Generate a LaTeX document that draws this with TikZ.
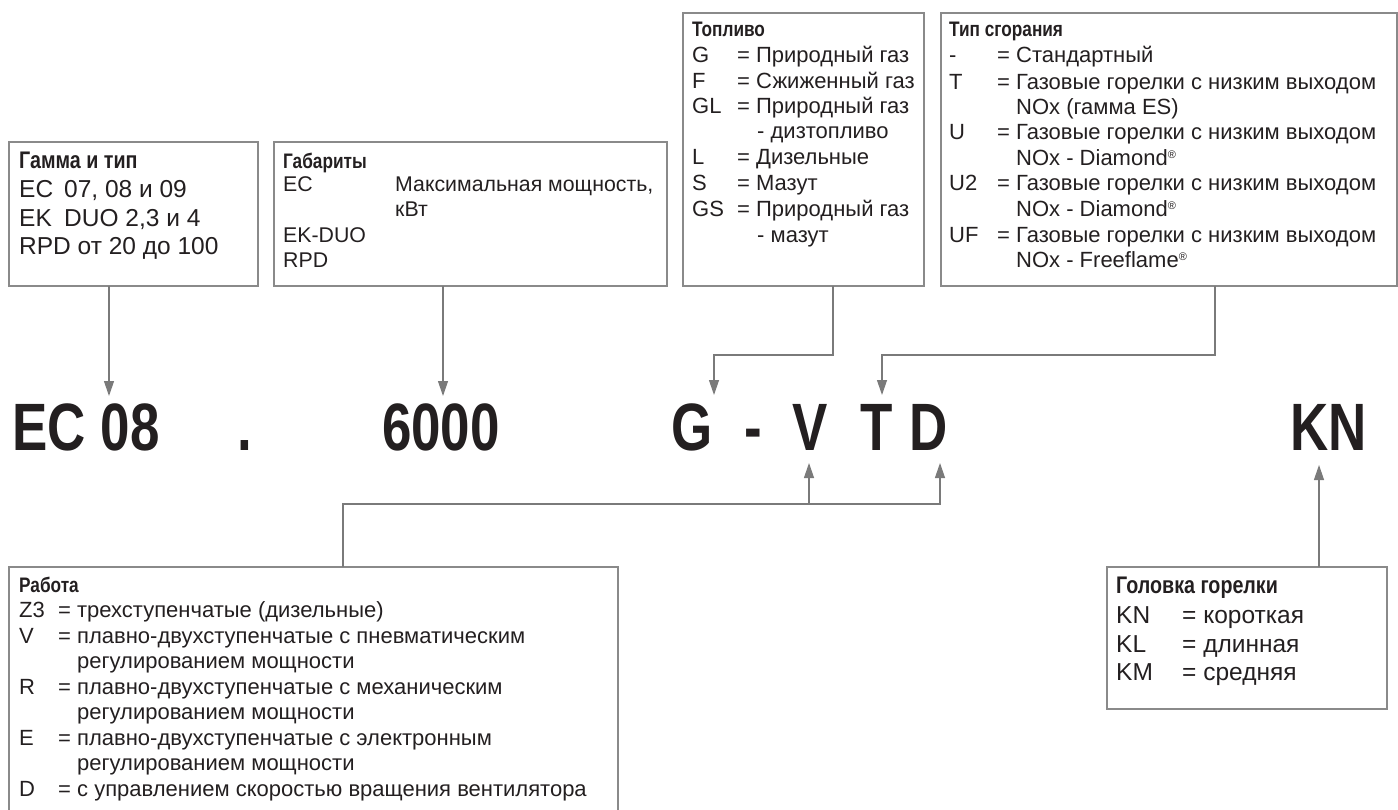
\documentclass[tikz,border=0pt]{standalone}
\usepackage{fontspec}
\setmainfont{Liberation Sans}
\newfontfamily\headfont[FakeStretch=0.82]{Liberation Sans}
\newfontfamily\bigfont[FakeStretch=0.79]{Liberation Sans}
\usetikzlibrary{arrows.meta}
\definecolor{ink}{HTML}{231F20}
\definecolor{boxgray}{HTML}{8A8A8A}
\definecolor{linegray}{HTML}{7A7A7A}
\newcounter{tn}
\newcommand\boxline[3]{\stepcounter{tn}\node[txt] (t\arabic{tn}) at (#1,-#2) {#3};}
\newcommand\boxhead[3]{\stepcounter{tn}\node[hd] (t\arabic{tn}) at (#1,-#2) {#3};}
\newcommand\bigline[3]{\stepcounter{tn}\node[txtL] (t\arabic{tn}) at (#1,-#2) {#3};}
\newcommand\bighead[3]{\stepcounter{tn}\node[hdL] (t\arabic{tn}) at (#1,-#2) {#3};}
\newcommand\midline[3]{\stepcounter{tn}\node[txtM] (t\arabic{tn}) at (#1,-#2) {#3};}
\newcommand\reg{\textsuperscript{\fontsize{11}{11}\selectfont ®}}
\begin{document}
\begin{tikzpicture}[x=1pt,y=1pt,
  txt/.style={anchor=base west, inner sep=0pt, text=ink, font=\fontsize{22}{26}\selectfont},
  txtM/.style={anchor=base west, inner sep=0pt, text=ink, font=\fontsize{21.3}{25}\selectfont},
  txtL/.style={anchor=base west, inner sep=0pt, text=ink, font=\fontsize{24.5}{28}\selectfont},
  hd/.style={anchor=base west, inner sep=0pt, text=ink, font=\headfont\bfseries\fontsize{21}{25}\selectfont},
  hdL/.style={anchor=base west, inner sep=0pt, text=ink, font=\headfont\bfseries\fontsize{24}{28}\selectfont},
  big/.style={anchor=base, inner sep=0pt, text=ink, font=\bigfont\bfseries\fontsize{67}{67}\selectfont},
  box/.style={draw=boxgray, line width=1.2pt, anchor=north west, inner sep=0pt, outer sep=0pt},
  conn/.style={draw=linegray, line width=1.2pt},
  arr/.style={conn, -{Triangle[length=15pt,width=10pt]}}
]
\useasboundingbox (0,0) rectangle (1398,-810);

% boxes
\node[box, minimum width=249pt, minimum height=144pt] (bx1) at (9,-142) {};
\node[box, minimum width=393pt, minimum height=144pt] (bx2) at (274,-142) {};
\node[box, minimum width=241pt, minimum height=273pt] (bxF) at (683,-13) {};
\node[box, minimum width=456pt, minimum height=273pt] (bxC) at (941,-13) {};
\node[box, minimum width=609pt, minimum height=270pt] (bxW) at (9,-567) {};
\node[box, minimum width=280pt, minimum height=142pt] (bxK) at (1107,-567) {};

% Box 1
\bighead{19}{169}{Гамма и тип}
\bigline{19}{198}{EC}
\bigline{64}{198}{07, 08 и 09}
\bigline{19}{227}{EK}
\bigline{64}{227}{DUO 2,3 и 4}
\bigline{19}{255}{RPD от 20 до 100}

% Box 2
\boxhead{283}{169}{Габариты}
\midline{283}{192}{EC}
\midline{395}{192}{Максимальная мощность,}
\midline{395}{217}{кВт}
\midline{283}{243}{EK-DUO}
\midline{283}{268}{RPD}

% Fuel
\boxhead{692}{37}{Топливо}
\boxline{692}{63}{G}   \boxline{737}{63}{= Природный газ}
\boxline{692}{89}{F}   \boxline{737}{89}{= Сжиженный газ}
\boxline{692}{114}{GL} \boxline{737}{114}{= Природный газ}
\boxline{757}{139}{- дизтопливо}
\boxline{692}{165}{L}  \boxline{737}{165}{= Дизельные}
\boxline{692}{191}{S}  \boxline{737}{191}{= Мазут}
\boxline{692}{217}{GS} \boxline{737}{217}{= Природный газ}
\boxline{757}{243}{- мазут}

% Combustion
\boxhead{949}{37}{Тип сгорания}
\boxline{949}{63}{-}   \boxline{997}{63}{= Стандартный}
\boxline{949}{90}{T}   \boxline{997}{90}{= Газовые горелки с низким выходом}
\boxline{1016}{115}{NOx (гамма ES)}
\boxline{949}{140}{U}  \boxline{997}{140}{= Газовые горелки с низким выходом}
\boxline{1016}{166}{NOx - Diamond\reg}
\boxline{949}{191}{U2} \boxline{997}{191}{= Газовые горелки с низким выходом}
\boxline{1016}{217}{NOx - Diamond\reg}
\boxline{949}{243}{UF} \boxline{997}{243}{= Газовые горелки с низким выходом}
\boxline{1016}{268}{NOx - Freeflame\reg}

% Work
\boxhead{19}{592}{Работа}
\boxline{19}{617.5}{Z3} \boxline{58}{617.5}{= трехступенчатые (дизельные)}
\boxline{19}{643}{V}    \boxline{58}{643}{= плавно-двухступенчатые с пневматическим}
\boxline{77}{668.5}{регулированием мощности}
\boxline{19}{694}{R}    \boxline{58}{694}{= плавно-двухступенчатые с механическим}
\boxline{77}{719.5}{регулированием мощности}
\boxline{19}{745}{E}    \boxline{58}{745}{= плавно-двухступенчатые с электронным}
\boxline{77}{770.5}{регулированием мощности}
\boxline{19}{796}{D}    \boxline{58}{796}{= с управлением скоростью вращения вентилятора}

% Head
\bighead{1116}{593}{Головка горелки}
\bigline{1116}{623}{KN} \bigline{1182}{623}{= короткая}
\bigline{1116}{652}{KL} \bigline{1182}{652}{= длинная}
\bigline{1116}{680}{KM} \bigline{1182}{680}{= средняя}

% big code
\node[big] (bEC) at (86,-450) {EC 08};
\node[big] (bDot) at (244.5,-450) {.};
\node[big] (b6000) at (441,-450) {6000};
\node[big] (bG) at (692.5,-450) {G};
\node[big] (bDash) at (753,-450) {-};
\node[big] (bV) at (810.5,-450) {V};
\node[big] (bT) at (876.5,-450) {T};
\node[big] (bD) at (929,-450) {D};
\node[big] (bKN) at (1328.5,-450) {KN};

% connector points
\coordinate (tipEC) at (109,-396);
\coordinate (tip6) at (443,-396);
\coordinate (jF) at (833,-355);
\coordinate (tipG) at (714,-395);
\coordinate (jC) at (1215,-355);
\coordinate (tipT) at (882,-395);
\coordinate (jW) at (343,-504);
\coordinate (tipV) at (809,-463);
\coordinate (tipD) at (940,-463);
\coordinate (tipKN) at (1319,-465);

\draw[arr] (bx1.south -| tipEC) -- (tipEC);
\draw[arr] (bx2.south -| tip6) -- (tip6);
\draw[arr] (bxF.south -| jF) -- (jF) -| (tipG);
\draw[arr] (bxC.south -| jC) -- (jC) -| (tipT);
\draw[arr] (bxW.north -| jW) -- (jW) -| (tipV);
\draw[arr] (tipV |- jW) -| (tipD);
\draw[arr] (bxK.north -| tipKN) -- (tipKN);
\end{tikzpicture}
\end{document}
